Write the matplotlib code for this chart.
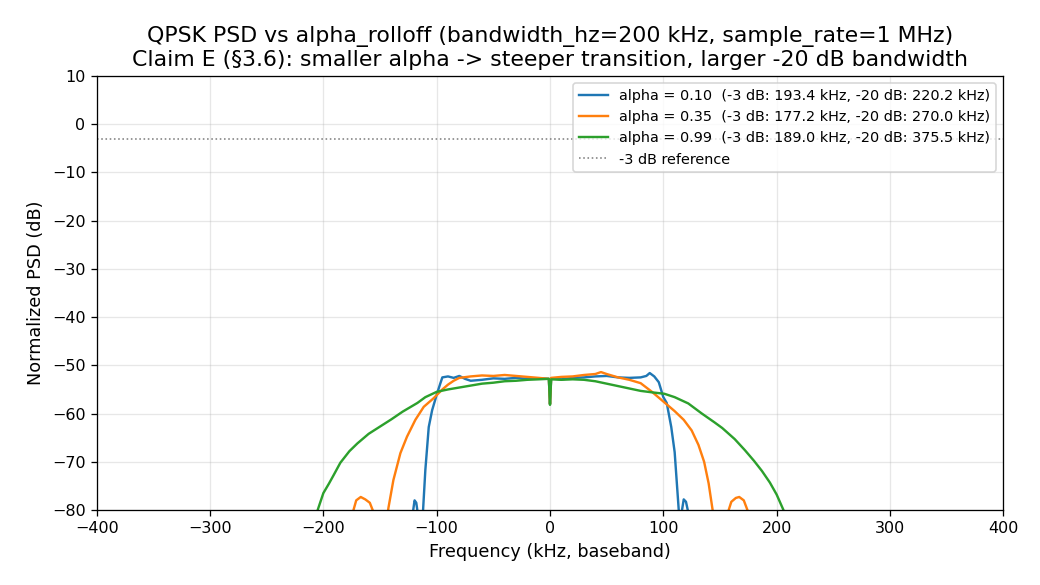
import matplotlib
matplotlib.use("Agg")
import matplotlib.pyplot as plt

# alpha = 0.10
f_a010 = [-124, -121, -119.5, -118, -116.5, -115, -113, -112, -110, -107, -104, -99.6, -96.7,
          -95, -90, -85, -80, -75, -70, -60, -50, -40, -30, -20, -10, -1, 0, 1, 10, 20, 30, 40,
          50, 60, 70, 80, 85, 88, 92, 96, 100, 103, 107, 110, 113.6, 115, 116.5, 118, 120, 122, 124]
p_a010 = [-85, -80.5, -78, -78.5, -81, -86, -85, -80, -71.7, -62.8, -59.3, -55.8, -53.7,
          -52.5, -52.3, -52.6, -52.2, -52.8, -53.2, -53.0, -52.7, -52.8, -52.6, -52.8, -52.7, -52.8, -58, -52.7, -52.9, -52.6, -52.5, -52.3,
          -52.2, -52.5, -52.6, -52.5, -52.2, -51.6, -52.3, -53.5, -56.6, -57.8, -62.8, -68, -80, -84, -80, -77.8, -78.3, -80.5, -85]

# alpha = 0.35
f_a035 = [-180, -174, -171, -167, -163, -159, -156, -150, -146, -142.6, -138.2, -132, -126.2,
          -118.8, -111.4, -102.6, -95, -90, -85, -80, -70, -60, -50, -40, -30, -20, -10, -1, 0, 1,
          10, 20, 30, 40, 45, 50, 60, 70, 80, 90, 100, 110, 118, 125, 131, 136, 140, 143.5, 147,
          153, 157, 160, 164, 167, 171, 175, 180]
p_a035 = [-86, -80.5, -78, -77.3, -77.8, -78.5, -80.3, -85, -86, -79.6, -73.8, -68.2, -64.8,
          -61.3, -58.6, -56.8, -55, -54, -53.2, -52.6, -52.3, -52.1, -52.2, -52.0, -52.2, -52.4, -52.6, -52.8, -58, -52.6,
          -52.4, -52.3, -52.0, -51.8, -51.4, -51.8, -52.5, -53, -53.7, -55.5, -57.5, -59.5, -61.3, -63.5, -66.5, -70, -74.5, -80, -86,
          -85, -80.5, -78.3, -77.5, -77.3, -78, -80.5, -86]

# alpha = 0.99
f_a099 = [-210, -205, -200, -195, -191, -185, -177, -170, -160, -150, -140, -130, -117, -110,
          -100, -90, -80, -70, -60, -50, -40, -30, -20, -10, -1, 0, 1, 10, 20, 30, 40, 50, 60,
          70, 80, 90, 101, 110, 122, 134, 145, 152, 163, 172, 180, 187, 194, 200, 206, 211]
p_a099 = [-86, -80, -76.5, -74.5, -72.8, -70.2, -67.8, -66.2, -64.2, -62.7, -61.2, -59.6, -57.8, -56.6,
          -55.5, -55, -54.6, -54.2, -53.8, -53.6, -53.3, -53.2, -53.0, -52.9, -52.8, -58.2, -52.9, -53, -52.9, -53, -53.3, -53.8, -54.3,
          -54.8, -55.3, -55.6, -55.9, -56.6, -57.9, -60, -61.8, -63.0, -65.3, -67.6, -69.8, -71.9, -74.3, -76.8, -80, -86]

series = [
    (f_a010, p_a010, "alpha = 0.10  (-3 dB: 193.4 kHz, -20 dB: 220.2 kHz)", "#1f77b4"),
    (f_a035, p_a035, "alpha = 0.35  (-3 dB: 177.2 kHz, -20 dB: 270.0 kHz)", "#ff7f0e"),
    (f_a099, p_a099, "alpha = 0.99  (-3 dB: 189.0 kHz, -20 dB: 375.5 kHz)", "#2ca02c"),
]

DPI = 115
fig = plt.figure(figsize=(1040 / DPI, 585 / DPI), dpi=DPI)
ax = fig.add_axes([96.7 / 1040, 1 - 510 / 585, (1003.3 - 96.7) / 1040, (510 - 76) / 585])

for f, p, lab, c in series:
    ax.plot(f, p, color=c, lw=1.5, label=lab)

ax.axhline(-3, color="gray", ls=":", lw=1.0, label="-3 dB reference")

ax.set_xlim(-400, 400)
ax.set_ylim(-80, 10)
ax.grid(True, alpha=0.3)
ax.set_xlabel("Frequency (kHz, baseband)", fontsize=11)
ax.set_ylabel("Normalized PSD (dB)", fontsize=11)
ax.set_title("QPSK PSD vs alpha_rolloff (bandwidth_hz=200 kHz, sample_rate=1 MHz)\n"
             "Claim E (§3.6): smaller alpha -> steeper transition, larger -20 dB bandwidth",
             fontsize=13.8)
ax.legend(loc="upper right", fontsize=9)

fig.savefig("out.png", dpi=DPI)
